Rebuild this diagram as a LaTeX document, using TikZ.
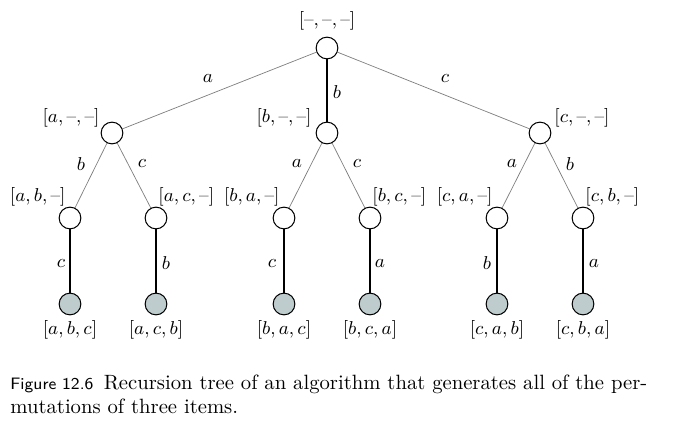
\documentclass[tikz,border=0pt]{standalone}
\usepackage{tikz}
\definecolor{leafgray}{RGB}{190,204,206}
\newcommand{\gap}{\mbox{--}}

\begin{document}
\begin{tikzpicture}[x=0.017cm,y=-0.017cm,
  inner/.style={circle,draw,fill=white,minimum size=10.5pt,inner sep=0pt,line width=0.5pt},
  leaf/.style={circle,draw,fill=leafgray,minimum size=10.5pt,inner sep=0pt,line width=0.5pt},
  thin edge/.style={draw=gray,line width=0.35pt},
  thick edge/.style={draw=black,line width=0.5pt},
  lbl/.style={font=\fontsize{9}{11}\selectfont,inner sep=1pt}]
  \useasboundingbox (0,0) rectangle (687,438);
  % tree nodes
  \node[inner] (r) at (327,48) {};
  \foreach \n/\x in {a/112,b/327,c/540} \node[inner] (\n) at (\x,133) {};
  \foreach \n/\x in {ab/70,ac/156,ba/284,bc/370,ca/497,cb/583} {
    \node[inner] (\n) at (\x,218) {};
    \node[leaf] (\n x) at (\x,304) {};
  }
  % edges
  \foreach \n in {a,c} \draw[thin edge] (r) -- (\n);
  \draw[thick edge] (r) -- (b);
  \foreach \p/\q in {a/ab,a/ac,b/ba,b/bc,c/ca,c/cb} \draw[thin edge] (\p) -- (\q);
  \foreach \n in {ab,ac,ba,bc,ca,cb} \draw[thick edge] (\n) -- (\n x);
  % state labels
  \node[lbl] (lr) at (327,21) {$[\gap,\gap,\gap]$};
  \node[lbl,anchor=east] (la) at (102,118) {$[a,\gap,\gap]$};
  \node[lbl,anchor=east] (lb) at (314,118) {$[b,\gap,\gap]$};
  \node[lbl,anchor=west] (lc) at (552,118) {$[c,\gap,\gap]$};
  \foreach \n/\x/\t in {ab/70/{a,b},ba/284/{b,a},ca/497/{c,a}}
    \node[lbl,anchor=east] (l\n) at (\x-2,197) {$[\t,\gap]$};
  \foreach \n/\x/\t in {ac/156/{a,c},bc/370/{b,c},cb/583/{c,b}}
    \node[lbl,anchor=west] (l\n) at (\x,197) {$[\t,\gap]$};
  \foreach \n/\x/\t in {abc/70/{a,b,c},acb/156/{a,c,b},bac/284/{b,a,c},bca/370/{b,c,a},cab/497/{c,a,b},cba/583/{c,b,a}}
    \node[lbl] (l\n) at (\x,330) {$[\t]$};
  % choice labels
  \node[lbl] (er a) at (208,79) {$a$};
  \node[lbl] (er b) at (337,92) {$b$};
  \node[lbl] (er c) at (445,79) {$c$};
  \foreach \n/\x/\t in {ab/81/b,ac/142/c,ba/297/a,bc/357/c,ca/512/a,cb/570/b}
    \node[lbl] (e\n) at (\x,164) {$\t$};
  \foreach \n/\x/\t in {ab/61/c,ac/166/b,ba/272/c,bc/380/a,ca/487/b,cb/594/a}
    \node[lbl] (f\n) at (\x,263) {$\t$};
  % caption
  \node[anchor=base west,inner sep=0pt] (cap1) at (10,390)
    {{\sffamily\footnotesize Figure 12.6}\enspace Recursion tree of an algorithm that generates all of the per-};
  \node[anchor=base west,inner sep=0pt] (cap2) at (10,414) {mutations of three items.};
\end{tikzpicture}
\end{document}
